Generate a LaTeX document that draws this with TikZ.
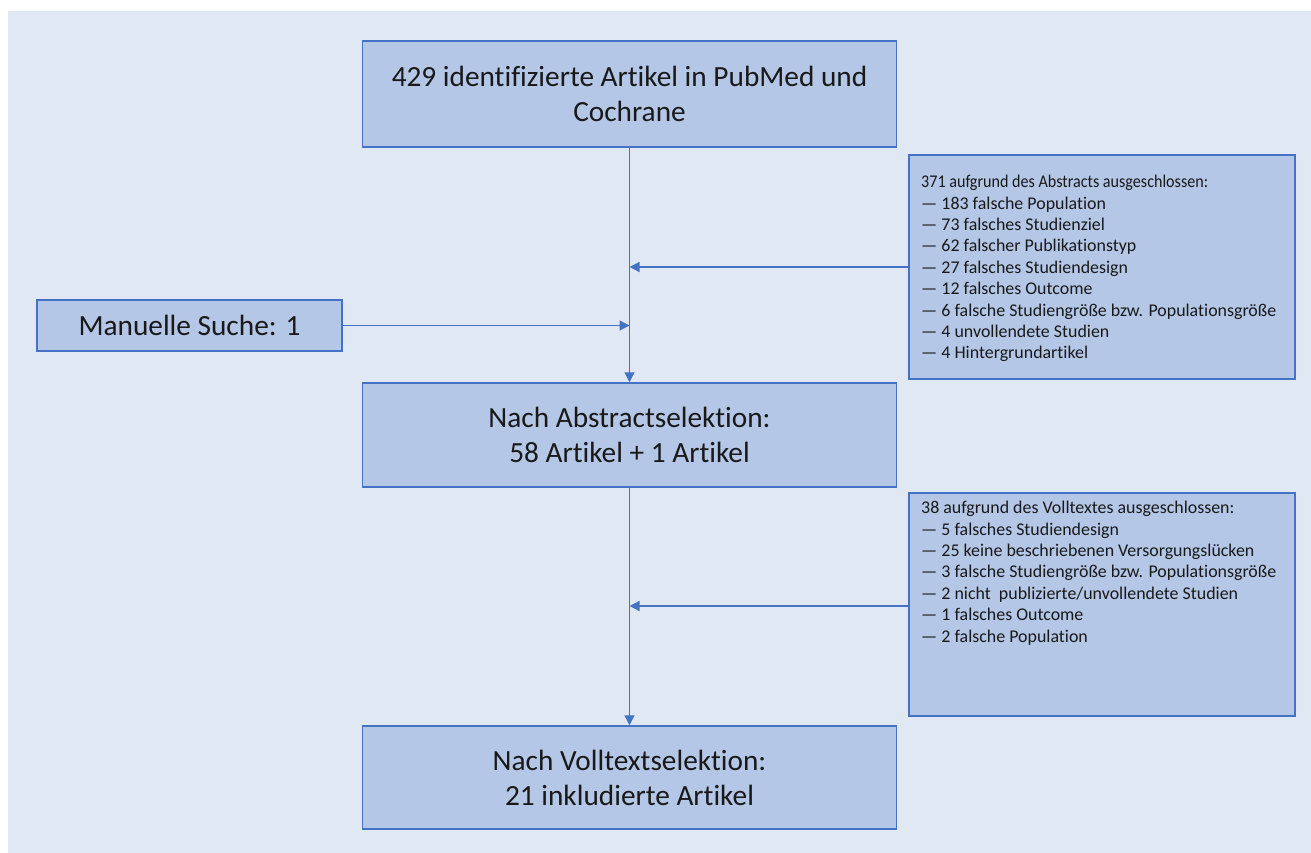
\documentclass[tikz,border=0pt]{standalone}
\usepackage{fontspec}
\setmainfont{Carlito}[Ligatures={NoCommon}]
\usetikzlibrary{arrows.meta}
\definecolor{bg}{HTML}{DFE8F3}
\definecolor{boxfill}{HTML}{B4C7E7}
\definecolor{boxline}{HTML}{4472C4}
\begin{document}
\begin{tikzpicture}[x=1pt,y=-1pt,
  bigbox/.style={draw=boxline, fill=boxfill, line width=1.5pt, inner sep=0pt, align=center,
     font=\fontsize{29.3}{35}\selectfont, text=black!90},
  exbox/.style={draw=boxline, fill=boxfill, line width=1.5pt, inner sep=0pt},
  extext/.style={anchor=north west, inner sep=0pt, align=left, font=\fontsize{17.9}{21.4}\selectfont, text=black!90},
  arr/.style={draw=boxline, line width=1.3pt, -{Triangle[length=10pt,width=10pt]}}]
\useasboundingbox (0,0) rectangle (1311,853);
\fill[white] (0,0) rectangle (1311,853);
\fill[bg] (8,11) rectangle (1311,853);
\node[bigbox, minimum width=534pt, minimum height=106pt] (top) at (629.5,94) {429 identifizierte Artikel in PubMed und\\Cochrane};
\node[bigbox, minimum width=534pt, minimum height=104pt] (mid) at (629.5,435) {Nach Abstractselektion:\\58 Artikel + 1 Artikel};
\node[bigbox, minimum width=534pt, minimum height=103pt] (bot) at (629.5,777.5) {Nach Volltextselektion:\\21 inkludierte Artikel};
\node[bigbox, minimum width=305pt, minimum height=51pt] (man) at (189.5,325.5) {Manuelle Suche: 1};
\node[exbox, minimum width=386pt, minimum height=224pt] (ex1) at (1102,267) {};
\node[exbox, minimum width=386pt, minimum height=223pt] (ex2) at (1102,604.5) {};
\node[extext] (ex1t) at (921,175) {\scalebox{0.9}[1]{371 aufgrund des Abstracts ausgeschlossen:}\\
— 183 falsche Population\\
— 73 falsches Studienziel\\
— 62 falscher Publikationstyp\\
— 27 falsches Studiendesign\\
— 12 falsches Outcome\\
— 6 falsche Studiengröße bzw. Populationsgröße\\
— 4 unvollendete Studien\\
— 4 Hintergrundartikel};
\node[extext] (ex2t) at (921,501) {38 aufgrund des Volltextes ausgeschlossen:\\
— 5 falsches Studiendesign\\
— 25 keine beschriebenen Versorgungslücken\\
— 3 falsche Studiengröße bzw. Populationsgröße\\
— 2 nicht\ \ publizierte/unvollendete Studien\\
— 1 falsches Outcome\\
— 2 falsche Population};
\draw[arr] (top.south) -- (mid.north);
\draw[arr] (mid.south) -- (bot.north);
\draw[arr] (ex1.west) -- (ex1.west -| top.south);
\draw[arr] (man.east) -- (man.east -| top.south);
\draw[arr] ([yshift=-1.5pt]ex2.west) -- ([yshift=-1.5pt]ex2.west -| top.south);
\end{tikzpicture}
\end{document}
